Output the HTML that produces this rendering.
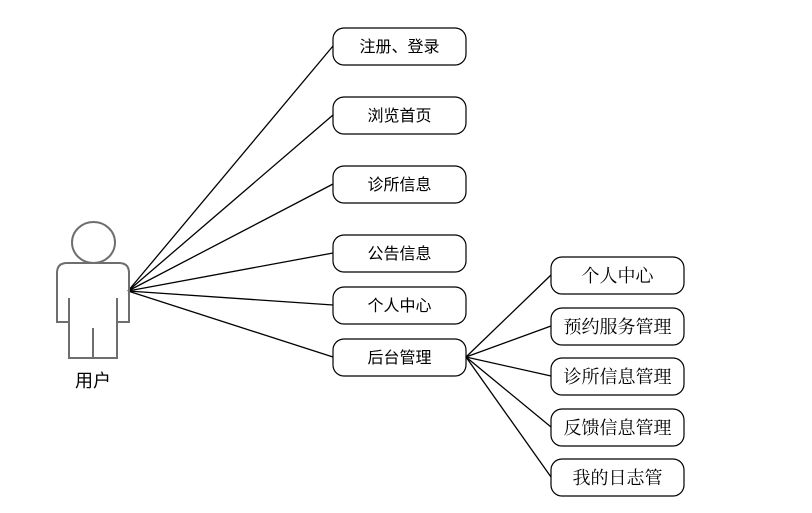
<!DOCTYPE html>
<html><head><meta charset="utf-8"><style>body{margin:0;background:#fff}svg{display:block}text{font-family:"Liberation Sans","Noto Sans CJK SC",sans-serif;fill:#000}.s{font-family:"Liberation Serif","Noto Serif CJK SC",serif}</style></head><body>
<svg width="812" height="513" viewBox="0 0 812 513">
<g stroke="#000" stroke-width="1.3" fill="none">
<line x1="128" y1="291" x2="333" y2="46"/>
<line x1="128" y1="291" x2="333" y2="115"/>
<line x1="128" y1="291" x2="333" y2="184"/>
<line x1="128" y1="291" x2="333" y2="253"/>
<line x1="128" y1="291" x2="333" y2="305"/>
<line x1="128" y1="291" x2="333" y2="357"/>
<line x1="466" y1="357" x2="551" y2="275"/>
<line x1="466" y1="357" x2="551" y2="326"/>
<line x1="466" y1="357" x2="551" y2="376"/>
<line x1="466" y1="357" x2="551" y2="427"/>
<line x1="466" y1="357" x2="551" y2="477"/>
</g>
<g stroke="#6e6e6e" stroke-width="2" fill="none">
<ellipse cx="93.5" cy="242.5" rx="21.5" ry="20.5"/>
<path d="M69,322 L57,322 L57,273 Q57,263 67,263 L119,263 Q129,263 129,273 L129,322 L117,322"/>
<path d="M69,298 L69,358 L117,358 L117,298"/>
<line x1="93" y1="328" x2="93" y2="358"/>
</g>
<text x="93" y="387" font-size="18" text-anchor="middle">用户</text>
<g stroke="#000" stroke-width="1.2" fill="#fff">
<rect x="333" y="28" width="133" height="37" rx="11"/>
<rect x="333" y="97" width="133" height="37" rx="11"/>
<rect x="333" y="166" width="133" height="37" rx="11"/>
<rect x="333" y="235" width="133" height="37" rx="11"/>
<rect x="333" y="287" width="133" height="37" rx="11"/>
<rect x="333" y="339" width="133" height="37" rx="11"/>
<rect x="551" y="257" width="133" height="37" rx="11"/>
<rect x="551" y="308" width="133" height="37" rx="11"/>
<rect x="551" y="358" width="133" height="37" rx="11"/>
<rect x="551" y="409" width="133" height="37" rx="11"/>
<rect x="551" y="459" width="133" height="37" rx="11"/>
</g>
<g font-size="16" text-anchor="middle">
<text x="399.5" y="52">注册、登录</text>
<text x="399.5" y="121">浏览首页</text>
<text x="399.5" y="190">诊所信息</text>
<text x="399.5" y="259">公告信息</text>
<text x="399.5" y="311">个人中心</text>
<text x="399.5" y="363">后台管理</text>
</g>
<g font-size="18" text-anchor="middle" class="s">
<text class="s" x="617.5" y="282">个人中心</text>
<text class="s" x="617.5" y="333">预约服务管理</text>
<text class="s" x="617.5" y="383">诊所信息管理</text>
<text class="s" x="617.5" y="434">反馈信息管理</text>
<text class="s" x="617.5" y="484">我的日志管</text>
</g>
</svg>
</body></html>
